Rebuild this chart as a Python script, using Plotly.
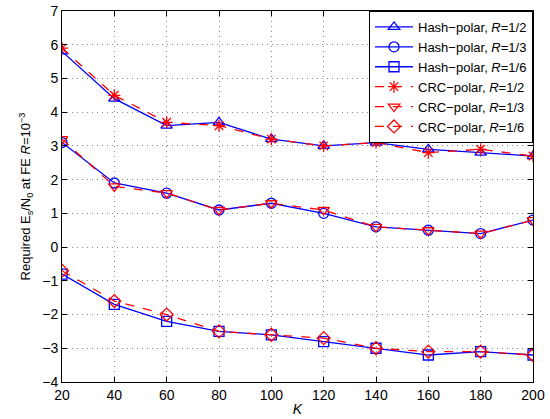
import plotly.graph_objects as go

K = [20, 40, 60, 80, 100, 120, 140, 160, 180, 200]
hash_r12 = [5.8, 4.4, 3.6, 3.7, 3.2, 3.0, 3.1, 2.9, 2.8, 2.7]
hash_r13 = [3.1, 1.9, 1.6, 1.1, 1.3, 1.0, 0.6, 0.5, 0.4, 0.8]
hash_r16 = [-0.8, -1.7, -2.2, -2.5, -2.6, -2.8, -3.0, -3.2, -3.1, -3.2]
crc_r12 = [5.9, 4.5, 3.7, 3.6, 3.2, 3.0, 3.1, 2.8, 2.9, 2.7]
crc_r13 = [3.2, 1.8, 1.6, 1.1, 1.3, 1.1, 0.6, 0.5, 0.4, 0.8]
crc_r16 = [-0.7, -1.6, -2.0, -2.5, -2.6, -2.7, -3.0, -3.1, -3.1, -3.2]

series = [
    ("Hash\u2212polar, <i>R</i>=1/2", hash_r12, "blue", "solid", "triangle-up-open"),
    ("Hash\u2212polar, <i>R</i>=1/3", hash_r13, "blue", "solid", "circle-open"),
    ("Hash\u2212polar, <i>R</i>=1/6", hash_r16, "blue", "solid", "square-open"),
    ("CRC\u2212polar, <i>R</i>=1/2", crc_r12, "red", "dash", "asterisk-open"),
    ("CRC\u2212polar, <i>R</i>=1/3", crc_r13, "red", "dash", "triangle-down-open"),
    ("CRC\u2212polar, <i>R</i>=1/6", crc_r16, "red", "dash", "diamond-open"),
]

fig = go.Figure()
for name, y, color, dash, sym in series:
    fig.add_trace(go.Scatter(
        x=K, y=y, name=name, mode="lines+markers",
        line=dict(color=color, width=1.3, dash=dash),
        marker=dict(symbol=sym, size=10, color=color, line=dict(color=color, width=1.3)),
    ))

axis_common = dict(
    showline=True, linecolor="black", linewidth=1, mirror="ticks",
    ticks="inside", ticklen=5, tickcolor="black",
    showgrid=True, gridcolor="#888888", griddash="1px,4px", gridwidth=1,
    zeroline=False, tickfont=dict(size=14, color="black"), automargin=False,
)

fig.update_xaxes(range=[20, 200], tickvals=K, ticktext=[str(k) for k in K],
                 title=dict(text="<i>K</i>", font=dict(size=14, color="black"), standoff=2),
                 **axis_common)
fig.update_yaxes(range=[-4, 7], dtick=1,
                 title=dict(text="Required E<sub>s</sub>/N<sub>0</sub> at FE <i>R</i>=10<sup>\u22123</sup>",
                            font=dict(size=13, color="black"), standoff=8),
                 **axis_common)

fig.update_layout(
    width=550, height=419,
    margin=dict(l=62, r=17, t=11, b=37),
    paper_bgcolor="white", plot_bgcolor="white",
    font=dict(family="Liberation Sans, Arial, sans-serif", color="black"),
    legend=dict(x=1, y=1, xanchor="right", yanchor="top",
                bgcolor="white", bordercolor="black", borderwidth=1,
                font=dict(size=13, color="black"), tracegroupgap=0,
                itemwidth=38),
    showlegend=True,
)

fig.write_html("out.html")
